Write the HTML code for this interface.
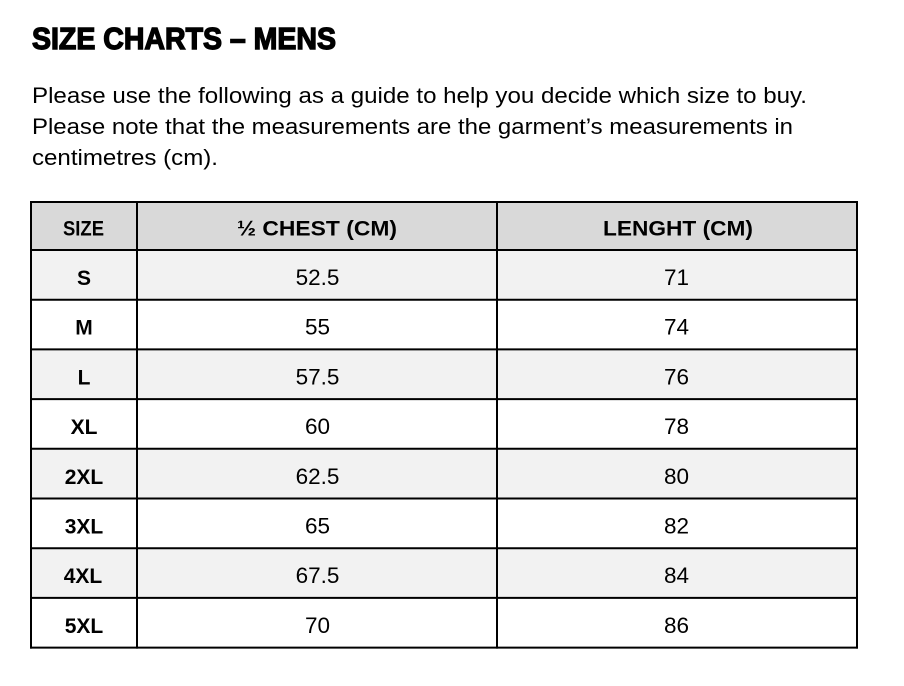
<!DOCTYPE html>
<html>
<head>
<meta charset="utf-8">
<style>
  html, body { margin: 0; padding: 0; background: #ffffff; }
  body { width: 904px; height: 686px; overflow: hidden; }
  svg { display: block; }
  text { font-family: "Liberation Sans", "DejaVu Sans", sans-serif; fill: #000; }
</style>
</head>
<body>
<svg width="904" height="686" viewBox="0 0 904 686" xmlns="http://www.w3.org/2000/svg">
  <rect x="0" y="0" width="904" height="686" fill="#ffffff"/>

  <!-- Title -->
  <text x="32" y="49" font-size="31" font-weight="bold" textLength="304" lengthAdjust="spacingAndGlyphs" stroke="#000" stroke-width="1.4">SIZE CHARTS – MENS</text>

  <!-- Paragraph -->
  <g transform="translate(0,103) scale(1,1.06)">
    <text x="32" y="0" font-size="21" textLength="775" lengthAdjust="spacingAndGlyphs">Please use the following as a guide to help you decide which size to buy.</text>
  </g>
  <g transform="translate(0,134) scale(1,1.06)">
    <text x="32" y="0" font-size="21" textLength="761" lengthAdjust="spacingAndGlyphs">Please note that the measurements are the garment’s measurements in</text>
  </g>
  <g transform="translate(0,165) scale(1,1.06)">
    <text x="32" y="0" font-size="21" textLength="186" lengthAdjust="spacingAndGlyphs">centimetres (cm).</text>
  </g>

  <!-- Row backgrounds -->
  <rect x="31" y="202" width="826" height="48" fill="#d9d9d9"/>
  <rect x="31" y="250" width="826" height="49.7" fill="#f2f2f2"/>
  <rect x="31" y="349.4" width="826" height="49.7" fill="#f2f2f2"/>
  <rect x="31" y="448.8" width="826" height="49.7" fill="#f2f2f2"/>
  <rect x="31" y="548.2" width="826" height="49.7" fill="#f2f2f2"/>

  <!-- Grid lines -->
  <g stroke="#000" stroke-width="2">
    <line x1="30" y1="202" x2="858" y2="202"/>
    <line x1="30" y1="250" x2="858" y2="250"/>
    <line x1="30" y1="299.7" x2="858" y2="299.7"/>
    <line x1="30" y1="349.4" x2="858" y2="349.4"/>
    <line x1="30" y1="399.1" x2="858" y2="399.1"/>
    <line x1="30" y1="448.8" x2="858" y2="448.8"/>
    <line x1="30" y1="498.5" x2="858" y2="498.5"/>
    <line x1="30" y1="548.2" x2="858" y2="548.2"/>
    <line x1="30" y1="597.9" x2="858" y2="597.9"/>
    <line x1="30" y1="647.6" x2="858" y2="647.6"/>
    <line x1="31" y1="201" x2="31" y2="648.6"/>
    <line x1="137" y1="201" x2="137" y2="648.6"/>
    <line x1="497" y1="201" x2="497" y2="648.6"/>
    <line x1="857" y1="201" x2="857" y2="648.6"/>
  </g>

  <!-- Header -->
  <text x="63" y="235.5" font-size="21" font-weight="bold" textLength="41" lengthAdjust="spacingAndGlyphs">SIZE</text>
  <text x="237" y="235.5" font-size="21" font-weight="bold" textLength="160" lengthAdjust="spacingAndGlyphs">½ CHEST (CM)</text>
  <text x="603" y="235.5" font-size="21" font-weight="bold" textLength="150" lengthAdjust="spacingAndGlyphs">LENGHT (CM)</text>

  <!-- Size column -->
  <g font-size="21" font-weight="bold" text-anchor="middle">
    <text x="84" y="285">S</text>
    <text x="84" y="334.7">M</text>
    <text x="84" y="384.4">L</text>
    <text x="84" y="434.1">XL</text>
    <text x="84" y="483.8">2XL</text>
    <text x="84" y="533.5">3XL</text>
    <text x="83" y="583.2">4XL</text>
    <text x="84" y="632.9">5XL</text>
  </g>

  <!-- Chest column -->
  <g font-size="22.5" text-anchor="middle">
    <text x="317.5" y="285">52.5</text>
    <text x="317.5" y="334.7">55</text>
    <text x="317.5" y="384.4">57.5</text>
    <text x="317.5" y="434.1">60</text>
    <text x="317.5" y="483.8">62.5</text>
    <text x="317.5" y="533.5">65</text>
    <text x="317.5" y="583.2">67.5</text>
    <text x="317.5" y="632.9">70</text>
  </g>

  <!-- Length column -->
  <g font-size="22.5" text-anchor="middle">
    <text x="676.5" y="285">71</text>
    <text x="676.5" y="334.7">74</text>
    <text x="676.5" y="384.4">76</text>
    <text x="676.5" y="434.1">78</text>
    <text x="676.5" y="483.8">80</text>
    <text x="676.5" y="533.5">82</text>
    <text x="676.5" y="583.2">84</text>
    <text x="676.5" y="632.9">86</text>
  </g>
</svg>
</body>
</html>
